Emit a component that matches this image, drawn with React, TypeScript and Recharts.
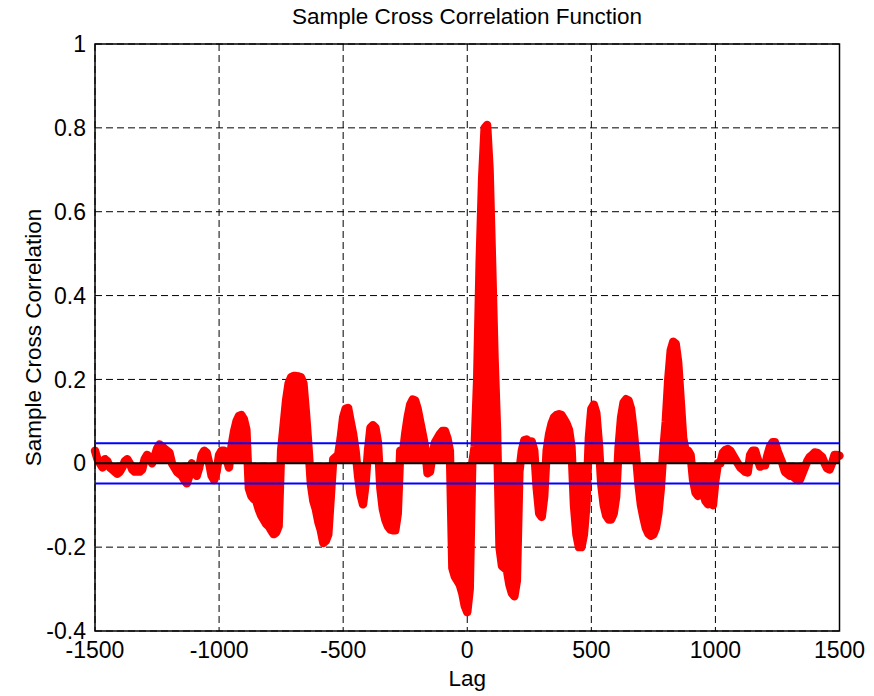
import {
  ComposedChart,
  Area,
  XAxis,
  YAxis,
  CartesianGrid,
  ReferenceLine,
  ReferenceArea,
} from 'recharts';

// sample cross correlation, one value every 10 lags
const lagStart = -1500;
const lagStep = 10;

// lags -1500 .. -1010
const xcfFarLeft = [
  0.03, 0.01, 0.0, -0.01, 0.01, 0.005, -0.01, -0.015, -0.02, -0.025,
  -0.02, -0.01, 0.005, 0.01, 0.0, -0.015, -0.02, -0.02, -0.02, -0.015,
  0.01, 0.02, 0.015, 0.0, 0.015, 0.035, 0.045, 0.04, 0.035, 0.03,
  0.025, 0.0, -0.01, -0.02, -0.025, -0.03, -0.04, -0.048, -0.03, 0.0,
  -0.02, -0.03, -0.01, 0.02, 0.03, 0.025, 0.0, -0.03, -0.04, -0.02,
];
// lags -1000 .. -510
const xcfMidLeft = [
  0.02, 0.03, 0.03, 0.01, -0.01, 0.04, 0.075, 0.1, 0.113, 0.115,
  0.105, 0.08, -0.06, -0.078, -0.085, -0.09, -0.11, -0.125, -0.135, -0.145,
  -0.15, -0.16, -0.169, -0.165, -0.15, 0.03, 0.09, 0.15, 0.19, 0.205,
  0.208, 0.208, 0.207, 0.205, 0.19, 0.12, 0.04, -0.05, -0.09, -0.11,
  -0.14, -0.16, -0.19, -0.185, -0.17, -0.08, 0.01, 0.015, 0.02, 0.06,
];
// lags -500 .. -10
const xcfNearLeft = [
  0.11, 0.13, 0.132, 0.1, 0.07, 0.03, -0.03, -0.075, -0.098, -0.05,
  0.03, 0.085, 0.091, 0.085, 0.05, -0.06, -0.11, -0.135, -0.15, -0.158,
  -0.16, -0.16, -0.12, 0.03, 0.02, 0.07, 0.11, 0.14, 0.152, 0.15,
  0.13, 0.1, 0.07, 0.04, -0.024, -0.02, 0.02, 0.05, 0.06, 0.07,
  0.077, 0.077, 0.06, 0.03, -0.25, -0.27, -0.28, -0.29, -0.31, -0.34,
];
// lags 0 .. 490
const xcfNearRight = [
  -0.355, -0.3, 0.0, 0.04, 0.2, 0.48, 0.68, 0.8, 0.807, 0.7,
  0.48, 0.25, 0.08, -0.2, -0.245, -0.25, -0.255, -0.29, -0.31, -0.317,
  -0.28, -0.02, 0.03, 0.055, 0.057, 0.05, 0.052, 0.03, -0.06, -0.12,
  -0.128, -0.08, 0.03, 0.07, 0.095, 0.11, 0.115, 0.117, 0.115, 0.105,
  0.095, 0.08, 0.04, -0.1, -0.17, -0.2, -0.2, -0.17, -0.1, 0.06,
];
// lags 500 .. 990
const xcfMidRight = [
  0.13, 0.14, 0.12, 0.05, -0.05, -0.1, -0.125, -0.134, -0.134, -0.12,
  -0.08, 0.04, 0.11, 0.145, 0.153, 0.15, 0.13, 0.08, 0.02, -0.05,
  -0.1, -0.13, -0.155, -0.168, -0.173, -0.17, -0.155, -0.12, -0.06, 0.03,
  0.1, 0.2, 0.27, 0.29, 0.285, 0.24, 0.15, 0.06, 0.03, 0.03,
  0.02, -0.04, -0.07, -0.078, -0.07, -0.07, -0.09, -0.098, -0.09, -0.1,
];
// lags 1000 .. 1500
const xcfFarRight = [
  -0.04, 0.0, 0.0, 0.025, 0.032, 0.034, 0.03, 0.02, 0.01, 0.0,
  -0.01, -0.015, -0.02, -0.022, 0.02, 0.03, 0.03, 0.01, -0.008, -0.005,
  -0.005, 0.02, 0.04, 0.05, 0.05, 0.03, 0.015, 0.0, -0.02, -0.025,
  -0.03, -0.03, -0.035, -0.04, -0.04, -0.025, -0.01, 0.005, 0.015, 0.02,
  0.026, 0.025, 0.02, 0.015, 0.0, -0.012, -0.015, 0.0, 0.02, 0.02,
  0.018,
];

const confBound = 0.048;
const xTicks = [-1500, -1000, -500, 0, 500, 1000, 1500];
const yTicks = [-0.4, -0.2, 0, 0.2, 0.4, 0.6, 0.8, 1];

const xcf = [...xcfFarLeft, ...xcfMidLeft, ...xcfNearLeft, ...xcfNearRight, ...xcfMidRight, ...xcfFarRight];
const data = xcf.map((v, i) => ({ lag: lagStart + i * lagStep, xcf: v }));

const font = '"Liberation Sans", Arial, Helvetica, sans-serif';
const RED = '#ff0000';
const MARKER_R = 4.2;

export default function App() {
  return (
    <div style={{ position: 'absolute', left: 0, top: 0, width: 874, height: 696, background: '#fff', fontFamily: font }}>
      <div
        style={{
          position: 'absolute',
          left: 0,
          top: 6,
          width: 934,
          textAlign: 'center',
          fontSize: 22.5,
          lineHeight: '22px',
          color: '#000',
        }}
      >
        Sample Cross Correlation Function
      </div>
      <ComposedChart width={874} height={696} data={data} margin={{ top: 44, right: 34.5, bottom: 0, left: 0 }}>
        <CartesianGrid stroke="#000" strokeDasharray="7 4" strokeWidth={1} />
        <XAxis
          dataKey="lag"
          type="number"
          domain={[-1500, 1500]}
          ticks={xTicks}
          tickLine={false}
          axisLine={false}
          tickSize={0}
          tickMargin={11}
          height={65}
          tick={{ fill: '#000', fontSize: 23, fontFamily: font }}
          label={{ value: 'Lag', position: 'insideBottom', offset: 10, fill: '#000', fontSize: 22.5, fontFamily: font }}
        />
        <YAxis
          type="number"
          domain={[-0.4, 1]}
          ticks={yTicks}
          tickLine={false}
          axisLine={false}
          tickSize={0}
          tickMargin={9}
          width={95}
          tick={{ fill: '#000', fontSize: 23, fontFamily: font }}
          label={{
            value: 'Sample Cross Correlation',
            angle: -90,
            position: 'insideLeft',
            offset: 33,
            fill: '#000',
            fontSize: 22.5,
            fontFamily: font,
            style: { textAnchor: 'middle' },
          }}
        />
        {/* stems fill the band from 0; the wide round stroke stands for the dense round markers */}
        <Area
          dataKey="xcf"
          type="linear"
          baseValue={0}
          fill={RED}
          fillOpacity={1}
          stroke={RED}
          strokeWidth={MARKER_R * 2}
          strokeLinejoin="round"
          strokeLinecap="round"
          dot={false}
          activeDot={false}
          isAnimationActive={false}
        />
        <ReferenceLine y={0} stroke="#000" strokeWidth={2} />
        <ReferenceLine y={confBound} stroke="#0000ff" strokeWidth={2} />
        <ReferenceLine y={-confBound} stroke="#0000ff" strokeWidth={2} />
        <ReferenceArea x1={-1500} x2={1500} y1={-0.4} y2={1} fill="none" stroke="#000" strokeWidth={1.5} />
      </ComposedChart>
    </div>
  );
}
